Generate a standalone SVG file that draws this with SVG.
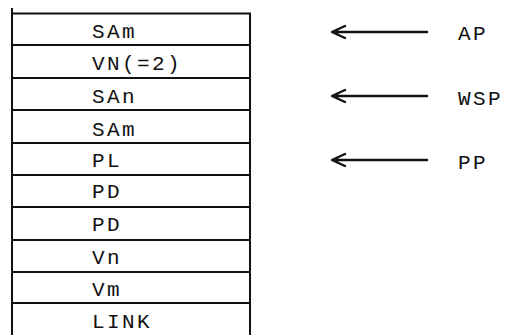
<svg xmlns="http://www.w3.org/2000/svg" width="508" height="335" viewBox="0 0 508 335">
<style>
.t{font-family:"Liberation Mono","DejaVu Sans Mono",monospace;font-size:21px;letter-spacing:2.4px;fill:#111}
.b{fill:none;stroke:#111;stroke-width:2}
.a{fill:none;stroke:#111;stroke-width:2.4;stroke-linecap:round;stroke-linejoin:round}
</style>
<rect width="508" height="335" fill="#fff"/>
<g id="stack">
<line class="b" x1="12" y1="8" x2="12" y2="335" stroke-width="3"/>
<line class="b" x1="250" y1="13" x2="250" y2="335"/>
<line class="b" x1="11" y1="13.5" x2="251" y2="13.5"/>
</g>
<g id="row1"><line class="b" x1="11" y1="45" x2="251" y2="45"/><text class="t" x="92" y="38">SAm</text></g>
<g id="row2"><line class="b" x1="11" y1="78" x2="251" y2="78"/><text class="t" x="92" y="70">VN(=2)</text></g>
<g id="row3"><line class="b" x1="11" y1="110" x2="251" y2="110"/><text class="t" x="92" y="103">SAn</text></g>
<g id="row4"><line class="b" x1="11" y1="143" x2="251" y2="143"/><text class="t" x="92" y="136">SAm</text></g>
<g id="row5"><line class="b" x1="11" y1="175" x2="251" y2="175"/><text class="t" x="92" y="167">PL</text></g>
<g id="row6"><line class="b" x1="11" y1="207" x2="251" y2="207"/><text class="t" x="92" y="198">PD</text></g>
<g id="row7"><line class="b" x1="11" y1="240" x2="251" y2="240"/><text class="t" x="92" y="231">PD</text></g>
<g id="row8"><line class="b" x1="11" y1="272" x2="251" y2="272"/><text class="t" x="92" y="264">Vn</text></g>
<g id="row9"><line class="b" x1="11" y1="303" x2="251" y2="303"/><text class="t" x="92" y="296">Vm</text></g>
<g id="row10"><text class="t" x="92" y="328">LINK</text></g>
<g id="connectors">
<path class="a" d="M345 26 L332 32 L345 38 M336 32 L427 32"/>
<path class="a" d="M345 90 L332 96 L345 102 M336 96 L427 96"/>
<path class="a" d="M345 154 L332 160 L345 166 M336 160 L427 160"/>
</g>
<g id="labels">
<text class="t" x="458" y="40">AP</text>
<text class="t" x="458" y="105">WSP</text>
<text class="t" x="458" y="169">PP</text>
</g>
</svg>
